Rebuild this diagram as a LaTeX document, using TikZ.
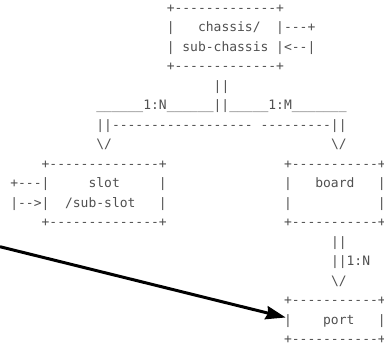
\documentclass[tikz,border=0pt]{standalone}
\usepackage{fontspec}
\usetikzlibrary{arrows.meta}
\newfontfamily\asciimono{DejaVu Sans Mono}
\definecolor{asciigray}{RGB}{80,80,80}

\begin{document}
\begin{tikzpicture}[x=5.865pt,y=-14.625pt,
  asc/.style={anchor=base west,inner sep=0,xshift=-2.93pt,yshift=-2.7pt,
    text=asciigray,font=\asciimono\fontsize{9.74pt}{12pt}\selectfont},
  pointer/.style={line width=2.25pt,-{Stealth[length=15pt,width=10pt,inset=1.5pt]}}]
\useasboundingbox (-1.79,-0.451) rectangle (47.31,17.344);
\node[asc] (chassisTop) at (20,0) {+-------------+};
\node[asc] (chassisA) at (20,1) {|~~~chassis/~~|---+};
\node[asc] (chassisB) at (20,2) {|~sub-chassis~|<--|};
\node[asc] (chassisBot) at (20,3) {+-------------+};
\node[asc] (trunk) at (26,4) {||};
\node[asc] (split) at (11,5) {\_\_\_\_\_\_1:N\_\_\_\_\_\_||\_\_\_\_\_1:M\_\_\_\_\_\_\_};
\node[asc] (splitBar) at (11,6) {||------------------~---------||};
\node[asc] (slotDown) at (11,7) {\textbackslash/};
\node[asc] (boardDown) at (41,7) {\textbackslash/};
\node[asc] (slotTop) at (4,8) {+--------------+};
\node[asc] (slotA) at (0,9) {+---|~~~~~slot~~~~~|};
\node[asc] (slotB) at (0,10) {|-->|~~/sub-slot~~~|};
\node[asc] (slotBot) at (4,11) {+--------------+};
\node[asc] (boardTop) at (35,8) {+-----------+};
\node[asc] (boardA) at (35,9) {|~~~board~~~|};
\node[asc] (boardB) at (35,10) {|~~~~~~~~~~~|};
\node[asc] (boardBot) at (35,11) {+-----------+};
\node[asc] (portLinkA) at (41,12) {||};
\node[asc] (portLinkB) at (41,13) {||1:N};
\node[asc] (portDown) at (41,14) {\textbackslash/};
\node[asc] (portTop) at (35,15) {+-----------+};
\node[asc] (portMid) at (35,16) {|~~~~port~~~|};
\node[asc] (portBot) at (35,17) {+-----------+};
\coordinate (pointerStart) at (-1.79,12.2);
\draw[pointer] (pointerStart) -- ([shift={(1.4pt,5.2pt)}]portMid.base west);
\end{tikzpicture}
\end{document}
